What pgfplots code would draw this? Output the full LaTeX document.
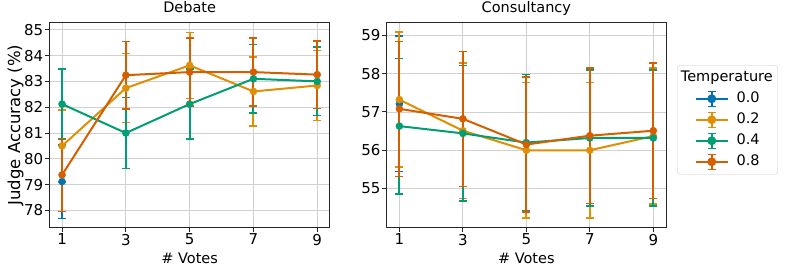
\documentclass[border=0pt]{standalone}
\usepackage{fontspec}
\setmainfont{DejaVu Sans}
\usepackage{pgfplots}
\pgfplotsset{compat=1.18}
\definecolor{c0}{HTML}{0173B2}
\definecolor{c1}{HTML}{DE8F05}
\definecolor{c2}{HTML}{029E73}
\definecolor{c3}{HTML}{D55E00}
\pgfplotsset{
  base/.style={
    scale only axis, height=204.3bp,
    xmin=0.6, xmax=9.4, xtick={1,3,5,7,9},
    tick pos=left, tick align=outside, major tick length=4.5bp,
    every tick/.style={black!85, line width=1bp},
    axis line style={black!85, line width=1bp},
    grid=major, grid style={black!18, line width=0.8bp},
    /pgf/number format/assume math mode=true,
    tick label style={font=\fontsize{15bp}{18bp}\selectfont},
    title style={at={(axis description cs:0.5,1)}, anchor=base, yshift=5bp},
    xlabel={\# Votes},
    xlabel style={at={(axis description cs:0.5,0)}, anchor=base, yshift=-36bp},
    yticklabel style={inner sep=1.5bp},
    xticklabel style={inner sep=2bp},
    every axis plot/.append style={line width=2bp, mark=*, mark size=3.6bp,
      mark options={solid, line width=0.3bp},
      error bars/y dir=both, error bars/y explicit,
      error bars/error bar style={line width=2bp},
      error bars/error mark options={rotate=90, mark size=4bp, line width=1.5bp}},
  },
  errleg/.style={legend image code/.code={
    \path (-14.7bp,0bp);
    \draw[#1, line width=2bp] (0bp,0bp) -- (31.7bp,0bp);
    \draw[#1, line width=2bp] (15.85bp,-7.5bp) -- (15.85bp,7.5bp);
    \draw[#1, line width=1.5bp] (11.85bp,-7.5bp) -- (19.85bp,-7.5bp) (11.85bp,7.5bp) -- (19.85bp,7.5bp);
    \fill[#1] (15.85bp,0bp) circle (3.4bp);
  }},
}
\begin{document}
\fontsize{14.5bp}{17bp}\selectfont
\begin{tikzpicture}
\path[use as bounding box] (0,0) rectangle (789bp,273bp);
\begin{axis}[base, at={(49.3bp,45.7bp)}, anchor=south west,
  width=280.7bp, ymin=77.35, ymax=85.26, ytick={78,79,80,81,82,83,84,85},
  title={Debate}, ylabel={Judge Accuracy (\%)},
  ylabel style={at={(axis description cs:-0.104,0.5)}, anchor=base, font=\fontsize{16.5bp}{19bp}\selectfont}]
\addplot[c0] coordinates {(1,79.12) +- (0,1.42)};
\addplot[c1] coordinates {(1,80.50) +- (0,1.40) (3,82.74) +- (0,1.33) (5,83.62) +- (0,1.28) (7,82.61) +- (0,1.33) (9,82.84) +- (0,1.35)};
\addplot[c2] coordinates {(1,82.12) +- (0,1.36) (3,81.00) +- (0,1.37) (5,82.12) +- (0,1.35) (7,83.10) +- (0,1.33) (9,83.00) +- (0,1.33)};
\addplot[c3] coordinates {(1,79.38) +- (0,1.41) (3,83.24) +- (0,1.31) (5,83.36) +- (0,1.32) (7,83.36) +- (0,1.32) (9,83.26) +- (0,1.31)};
\end{axis}
\begin{axis}[base, at={(386.7bp,45.7bp)}, anchor=south west,
  width=279.3bp, ymin=53.99, ymax=59.32, ytick={55,56,57,58,59},
  title={Consultancy},
  legend cell align=left,
  legend style={at={(axis description cs:1.0394,0.794)}, anchor=north west,
    draw=black!20, rounded corners=3bp, fill=white, inner xsep=3bp, inner ysep=3bp,
    row sep=2bp, column sep=6bp, nodes={inner sep=2bp, text height=11bp, text depth=4bp}}]
\addlegendimage{empty legend}
\addlegendentry{\hspace*{-55.7bp}Temperature}
\addplot[c0, errleg=c0] coordinates {(1,57.21) +- (0,1.77)};
\addlegendentry{0.0}
\addplot[c1, errleg=c1] coordinates {(1,57.32) +- (0,1.76) (3,56.51) +- (0,1.77) (5,56.00) +- (0,1.77) (7,56.00) +- (0,1.77) (9,56.37) +- (0,1.77)};
\addlegendentry{0.2}
\addplot[c2, errleg=c2] coordinates {(1,56.63) +- (0,1.77) (3,56.44) +- (0,1.77) (5,56.20) +- (0,1.77) (7,56.32) +- (0,1.77) (9,56.32) +- (0,1.77)};
\addlegendentry{0.4}
\addplot[c3, errleg=c3] coordinates {(1,57.08) +- (0,1.76) (3,56.82) +- (0,1.76) (5,56.15) +- (0,1.76) (7,56.38) +- (0,1.77) (9,56.51) +- (0,1.77)};
\addlegendentry{0.8}
\end{axis}
\end{tikzpicture}
\end{document}
